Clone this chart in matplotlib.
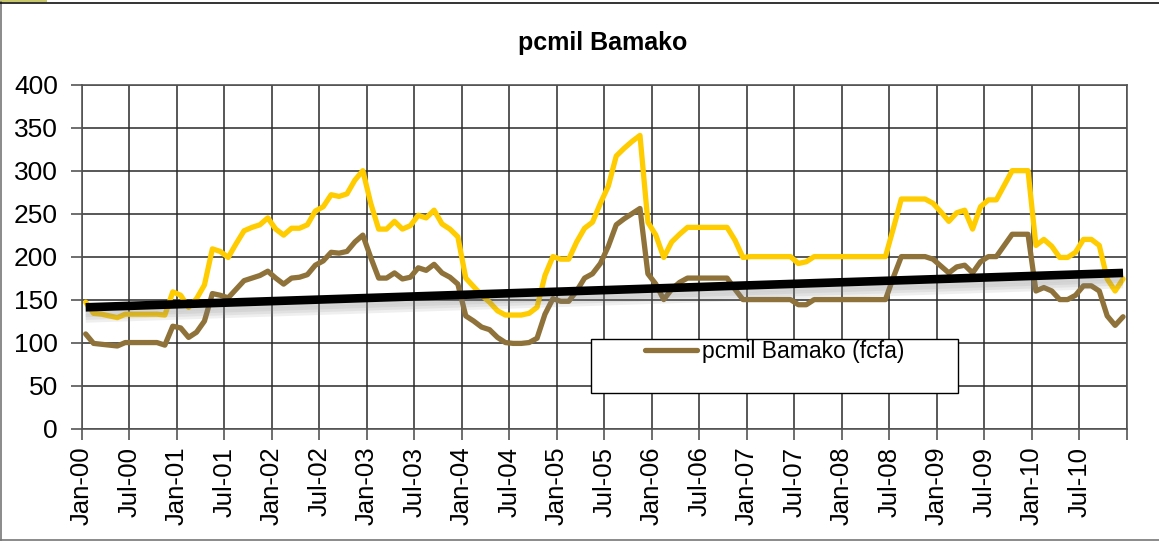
import matplotlib
matplotlib.use("Agg")
import matplotlib.pyplot as plt
import matplotlib.patheffects as pe
from matplotlib.patches import Rectangle
from matplotlib.lines import Line2D
import numpy as np

# ---------------- data ----------------
title = "pcmil Bamako"
legend_label = "pcmil Bamako (fcfa)"

# monthly values Jan-2000 .. Dec-2010
yellow_values = [
    147, 134, 133, 131, 129, 133, 133, 133, 133, 133, 132, 159,
    155, 141, 151, 167, 209, 206, 199, 215, 230, 234, 237, 245,
    232, 225, 233, 233, 237, 253, 258, 272, 270, 273, 289, 300,
    262, 232, 232, 241, 232, 236, 248, 245, 254, 238, 232, 223,
    175, 165, 155, 147, 137, 132, 132, 132, 134, 141, 178, 200,
    197, 197, 217, 233, 240, 262, 282, 317, 326, 334, 341, 240,
    225, 199, 217, 226, 234, 234, 234, 234, 234, 234, 219, 199,
    200, 200, 200, 200, 200, 200, 192, 194, 200, 200, 200, 200,
    200, 200, 200, 200, 200, 200, 233, 267, 267, 267, 267, 262,
    252, 241, 251, 254, 232, 258, 266, 266, 283, 300, 300, 300,
    213, 220, 212, 199, 199, 205, 220, 220, 213, 174, 160, 174,
]
brown_values = [
    110, 99, 98, 97, 96, 100, 100, 100, 100, 100, 97, 119,
    117, 106, 112, 125, 157, 155, 152, 162, 172, 175, 178, 183,
    175, 168, 175, 176, 179, 190, 195, 205, 204, 206, 217, 225,
    199, 175, 175, 181, 174, 176, 187, 184, 191, 181, 176, 168,
    131, 125, 118, 115, 106, 100, 99, 99, 100, 105, 133, 151,
    148, 148, 160, 175, 180, 192, 212, 237, 244, 250, 256, 180,
    168, 150, 162, 170, 175, 175, 175, 175, 175, 175, 162, 150,
    150, 150, 150, 150, 150, 150, 144, 144, 150, 150, 150, 150,
    150, 150, 150, 150, 150, 150, 176, 200, 200, 200, 200, 197,
    189, 181, 188, 190, 181, 194, 200, 200, 213, 226, 226, 226,
    160, 164, 160, 150, 150, 155, 166, 166, 160, 131, 120, 130,
]
trend_values = [141, 181]  # trend line start / end

tick_labels = ["Jan-00", "Jul-00", "Jan-01", "Jul-01", "Jan-02", "Jul-02",
               "Jan-03", "Jul-03", "Jan-04", "Jul-04", "Jan-05", "Jul-05",
               "Jan-06", "Jul-06", "Jan-07", "Jul-07", "Jan-08", "Jul-08",
               "Jan-09", "Jul-09", "Jan-10", "Jul-10", ""]
y_ticks = [0, 50, 100, 150, 200, 250, 300, 350, 400]

# ---------------- plot ----------------
plt.rcParams['font.family'] = ['Liberation Sans', 'DejaVu Sans']

W, H = 1159, 541
fig = plt.figure(figsize=(W / 100, H / 100), dpi=100)
fig.patch.set_facecolor("white")

ax_l, ax_r, ax_t, ax_b = 81.7, 1127, 84.7, 428.5
ax = fig.add_axes([ax_l / W, 1 - ax_b / H, (ax_r - ax_l) / W, (ax_b - ax_t) / H])

n = len(brown_values)
x = np.arange(n) + 0.5

c_yellow = "#FFCC00"
c_brown = "#8E7239"

ax.plot(x, yellow_values, color=c_yellow, lw=3.8, solid_joinstyle="round",
        solid_capstyle="round", zorder=3)
ax.plot(x, brown_values, color=c_brown, lw=3.8, solid_joinstyle="round",
        solid_capstyle="round", zorder=4)

shadow = [pe.SimpleLineShadow(offset=(0, -k), shadow_color="#808080",
                              alpha=0.12) for k in (2, 4, 6, 8)]
ax.plot([x[0], x[-1]], trend_values, color="black", lw=6.2,
        solid_capstyle="butt", zorder=5,
        path_effects=shadow + [pe.Normal()])

ax.set_xlim(0, n)
ax.set_ylim(0, 400)
ax.set_xticks(np.arange(0, n + 1, 6))
ax.set_xticklabels(tick_labels, rotation=90, fontsize=18.5)
ax.set_yticks(y_ticks)
ax.set_yticklabels([str(v) for v in y_ticks], fontsize=19)
ax.tick_params(axis="both", direction="out", length=8, width=1.2,
               color="#555555")
ax.tick_params(axis="y", pad=9)
ax.tick_params(axis="x", pad=5)
ax.grid(True, color="#2a2a2a", lw=1.1, zorder=1)
ax.set_axisbelow(True)
for s in ax.spines.values():
    s.set_color("#555555")
    s.set_linewidth(1.2)

# legend box
bx0, bx1, by0, by1 = 591, 958, 339, 393
tx = lambda px: (px - ax_l) / (ax_r - ax_l)
ty = lambda py: (ax_b - py) / (ax_b - ax_t)
ax.add_patch(Rectangle((tx(bx0), ty(by1)), tx(bx1) - tx(bx0), ty(by0) - ty(by1),
                       transform=ax.transAxes, facecolor="white",
                       edgecolor="black", lw=1.0, zorder=8))
handle = Line2D([], [], color=c_brown, lw=3.8, solid_capstyle="round")
leg = ax.legend([handle], [legend_label], loc="upper center",
                bbox_to_anchor=(tx((bx0 + bx1) / 2), ty(by0) + 0.005),
                frameon=False, fontsize=16.5, handlelength=2.3,
                handletextpad=0.2, borderaxespad=0, borderpad=0.1)
leg.set_zorder(9)

fig.text(603 / W, 1 - 43 / H, title, ha="center", va="center",
         fontsize=18, fontweight="bold")

# outer chart frame
fig.add_artist(Line2D([1.5 / W, 1.5 / W], [1 - 540 / H, 1 - 2 / H],
                      transform=fig.transFigure, color="#777777", lw=1.2))
fig.add_artist(Line2D([0, 1], [1 - 540 / H, 1 - 540 / H],
                      transform=fig.transFigure, color="#777777", lw=1.2))
fig.add_artist(Line2D([0, 1], [1 - 2.5 / H, 1 - 2.5 / H],
                      transform=fig.transFigure, color="#111111", lw=1.2))
fig.add_artist(Rectangle((0, 1 - 2 / H), 47 / W, 2 / H,
                         transform=fig.transFigure, color="#C8C86A", lw=0))

fig.savefig("out.png", dpi=100)
